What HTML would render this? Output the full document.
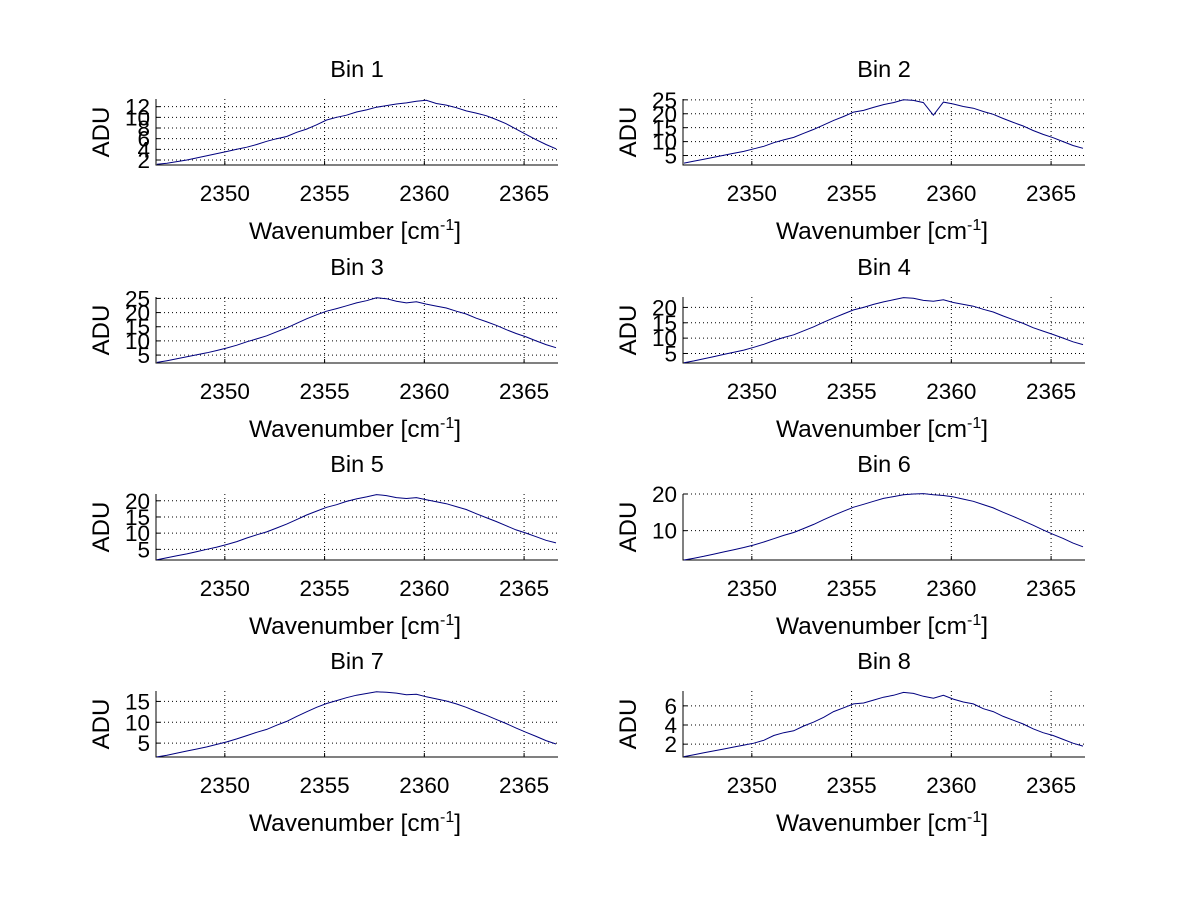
<!DOCTYPE html>
<html><head><meta charset="utf-8"><style>
html,body{margin:0;padding:0;background:#fff;}
svg{display:block;font-family:"Liberation Sans",Arial,sans-serif;}
</style></head><body>
<svg id="fig" width="1200" height="901" viewBox="0 0 1200 901"></svg>
<script>
const wavenumbers = Array.from({length:41},(_, i)=>+(2346.6+0.5*i).toFixed(1));
const xTicks = [2350,2355,2360,2365];
const xLimits = [2346.55, 2366.7];
const bin1 = [1.2,1.4,1.7,2.0,2.4,2.8,3.2,3.6,4.0,4.4,4.9,5.5,6.0,6.4,7.2,7.8,8.6,9.5,10.0,10.4,11.0,11.4,11.9,12.2,12.5,12.7,13.0,13.2,12.6,12.3,11.8,11.2,10.8,10.3,9.6,8.8,7.8,6.8,5.8,4.9,4.1];
const bin2 = [2.3,3.0,3.7,4.4,5.1,5.8,6.5,7.4,8.3,9.6,10.6,11.5,13.0,14.4,16.0,17.6,19.0,20.6,21.2,22.3,23.3,24.0,25.0,24.8,24.0,19.5,24.2,23.5,22.6,22.0,20.8,19.8,18.3,16.9,15.6,14.0,12.6,11.4,10.0,8.6,7.6];
const bin3 = [2.4,3.0,3.7,4.4,5.1,5.8,6.6,7.5,8.5,9.7,10.7,11.8,13.2,14.6,16.2,17.8,19.2,20.5,21.4,22.4,23.4,24.2,25.2,24.9,24.0,23.4,23.8,23.0,22.3,21.6,20.5,19.5,18.0,16.8,15.5,14.0,12.6,11.4,10.0,8.7,7.6];
const bin4 = [2.0,2.6,3.3,4.0,4.7,5.4,6.1,7.0,8.0,9.2,10.2,11.1,12.4,13.7,15.2,16.6,17.9,19.2,20.0,21.0,21.8,22.5,23.2,23.0,22.3,22.0,22.5,21.6,21.0,20.4,19.4,18.5,17.2,16.0,14.8,13.4,12.3,11.2,10.0,8.8,7.9];
const bin5 = [1.8,2.4,3.0,3.6,4.3,5.0,5.7,6.5,7.4,8.5,9.5,10.4,11.6,12.8,14.2,15.6,16.8,18.0,18.8,19.8,20.6,21.2,21.9,21.6,21.0,20.7,21.0,20.3,19.7,19.1,18.2,17.3,16.0,14.8,13.6,12.3,11.0,10.0,8.9,7.8,7.0];
const bin6 = [2.0,2.5,3.0,3.6,4.2,4.8,5.4,6.1,6.9,7.8,8.7,9.5,10.6,11.7,13.0,14.2,15.3,16.4,17.2,18.0,18.8,19.3,19.8,20.0,20.1,19.8,19.6,19.2,18.6,18.0,17.1,16.2,15.0,13.9,12.7,11.5,10.2,9.0,7.9,6.6,5.6];
const bin7 = [1.7,2.1,2.6,3.1,3.6,4.1,4.7,5.3,6.0,6.8,7.6,8.3,9.3,10.2,11.4,12.5,13.6,14.5,15.2,15.9,16.5,16.9,17.3,17.2,17.0,16.6,16.7,16.1,15.6,15.1,14.4,13.6,12.6,11.7,10.7,9.7,8.6,7.6,6.6,5.6,4.8];
const bin8 = [0.7,0.9,1.1,1.3,1.5,1.7,1.9,2.1,2.4,2.9,3.2,3.4,3.9,4.3,4.8,5.4,5.8,6.2,6.3,6.6,6.9,7.1,7.4,7.3,7.0,6.8,7.1,6.7,6.4,6.2,5.7,5.4,4.9,4.5,4.1,3.6,3.2,2.9,2.5,2.1,1.8];
const yTicks1 = [2,4,6,8,10,12], yTicks2 = [5,10,15,20,25], yTicks3 = [5,10,15,20,25], yTicks4 = [5,10,15,20], yTicks5 = [5,10,15,20], yTicks6 = [10,20], yTicks7 = [5,10,15], yTicks8 = [2,4,6];
const yLim1 = [1.06,13.44], yLim2 = [1.6,25.3], yLim3 = [2.2,25.5], yLim4 = [1.9,23.4], yLim5 = [1.7,22.1], yLim6 = [2.0,20.0], yLim7 = [1.67,17.5], yLim8 = [0.66,7.55];

const series=[bin1,bin2,bin3,bin4,bin5,bin6,bin7,bin8];
const yTickSets=[yTicks1,yTicks2,yTicks3,yTicks4,yTicks5,yTicks6,yTicks7,yTicks8];
const yLims=[yLim1,yLim2,yLim3,yLim4,yLim5,yLim6,yLim7,yLim8];
const NS="http://www.w3.org/2000/svg";
const fig=document.getElementById('fig');
function mk(tag,attrs,parent){const e=document.createElementNS(NS,tag);for(const k in attrs)e.setAttribute(k,attrs[k]);parent.appendChild(e);return e;}
const colX=[156,683], rowY=[99,297,494,691], W=402, H=66;
for(let b=0;b<8;b++){
  const L=colX[b%2], T=rowY[Math.floor(b/2)], R=L+W, B=T+H;
  const g=mk('g',{},fig);
  
  
  const xs=v=>L+(v-xLimits[0])/(xLimits[1]-xLimits[0])*W;
  const yl=yLims[b];
  const ys=v=>B-(v-yl[0])/(yl[1]-yl[0])*H;
  for(const t of xTicks){const x=xs(t);
    const l=mk('line',{x1:x,x2:x,y1:T,y2:B,stroke:'#000','stroke-width':1,'stroke-dasharray':'1,3'},g);
    
    
    mk('line',{x1:x,x2:x,y1:B,y2:B-4,stroke:'#000'},g);
    const tx=mk('text',{x:x,y:B+36,'text-anchor':'middle','font-size':22.5},g);tx.textContent=t;
    
    
  }
  for(const t of yTickSets[b]){const y=ys(t);
    const l=mk('line',{x1:L,x2:R,y1:y,y2:y,stroke:'#000','stroke-width':1,'stroke-dasharray':'1,3'},g);
    
    
    mk('line',{x1:L,x2:L+4,y1:y,y2:y,stroke:'#000'},g);
    const tx=mk('text',{x:L-6,y:y+8,'text-anchor':'end','font-size':22.5},g);tx.textContent=t;
    
    
  }
  const ax=mk('path',{d:`M${L},${T}V${B}H${R}`,fill:'none',stroke:'#000','stroke-width':1},g);
  
  
  const d=series[b].map((v,i)=>(i?'L':'M')+xs(wavenumbers[i]).toFixed(1)+','+ys(v).toFixed(1)).join('');
  const p=mk('path',{d:d,fill:'none',stroke:'#00007f','stroke-width':1},g);
  
  
  const ti=mk('text',{x:L+W/2,y:T-22,'text-anchor':'middle','font-size':23.5},g);ti.textContent='Bin '+(b+1);
  
  
  const xl=mk('text',{x:L+W/2-2,y:B+74,'text-anchor':'middle','font-size':24.5},g);
  xl.innerHTML='Wavenumber [cm<tspan dy="-9" font-size="16">-1</tspan><tspan dy="9">]</tspan>';
  
  
  const yt=mk('text',{x:0,y:0,'text-anchor':'middle','font-size':24,transform:`translate(${L-47},${T+H/2}) rotate(-90)`},g);yt.textContent='ADU';
  
  
}
</script>
</body></html>
